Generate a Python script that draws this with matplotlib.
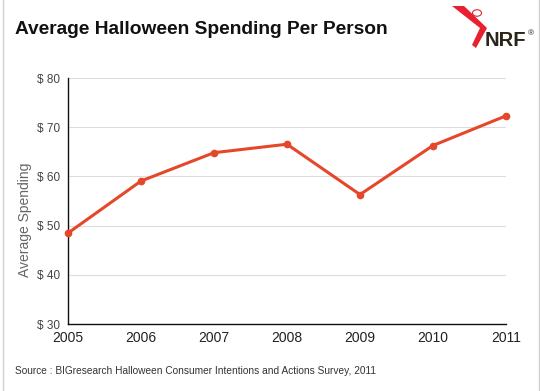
import matplotlib
matplotlib.use("Agg")
import matplotlib.pyplot as plt
from matplotlib.patches import Rectangle, Polygon, Circle

plt.rcParams['font.family'] = ['Liberation Sans', 'DejaVu Sans']

years = [2005, 2006, 2007, 2008, 2009, 2010, 2011]
spending = [48.48, 59.06, 64.82, 66.54, 56.31, 66.28, 72.31]
yticks = [30, 40, 50, 60, 70, 80]
ytick_labels = ["$ 30", "$ 40", "$ 50", "$ 60", "$ 70", "$ 80"]

W, H = 540, 391
fig = plt.figure(figsize=(W/100, H/100), dpi=100)
fig.patch.set_facecolor('white')

# outer border
fig.patches.append(Rectangle((3/W, -0.01), (W-4)/W, 1.02, transform=fig.transFigure,
                             fill=False, edgecolor='#d0d0d0', linewidth=1))

ax = fig.add_axes([68/W, 1-324/H, (506-68)/W, (324-78)/H])
ax.plot(years, spending, color='#E5472A', linewidth=2.2, marker='o',
        markersize=4.5, clip_on=False, zorder=3)
ax.set_xlim(2005, 2011)
ax.set_ylim(30, 80)
ax.set_yticks(yticks)
ax.set_yticklabels(ytick_labels, fontsize=8.5, color='#444444')
ax.set_xticks(years)
ax.set_xticklabels([str(y) for y in years], fontsize=10, color='#222222')
ax.tick_params(axis='y', length=0, pad=6)
ax.tick_params(axis='x', length=0, pad=5)
ax.grid(axis='y', color='#dddddd', linewidth=0.8)
ax.set_axisbelow(True)
for s in ['top', 'right']:
    ax.spines[s].set_visible(False)
ax.spines['left'].set_color('#111111')
ax.spines['bottom'].set_color('#111111')
ax.spines['left'].set_linewidth(1)
ax.spines['bottom'].set_linewidth(1)
ax.set_ylabel("Average Spending", fontsize=10, color='#666666')
ax.yaxis.set_label_coords((32-68)/438, (324-220)/246)

fig.text(15/W, 1-29/H, "Average Halloween Spending Per Person", fontsize=13.8,
         fontweight='bold', color='#111111', va='center', ha='left')
fig.text(15/W, 1-371/H, "Source : BIGresearch Halloween Consumer Intentions and Actions Survey, 2011",
         fontsize=7.3, color='#333333', va='center', ha='left')

# NRF logo
chev = Polygon([(452/W, 1-6/H), (464/W, 1-6/H), (487/W, 1-28/H), (476/W, 1-48/H),
                (472/W, 1-45/H), (480/W, 1-28/H)], closed=True,
               transform=fig.transFigure, facecolor='#E8202F', edgecolor='none')
fig.patches.append(chev)
fig.patches.append(Circle((477/W, 1-13/H), 4.5/W, transform=fig.transFigure,
                          fill=False, edgecolor='#E8202F', linewidth=0.8))
fig.text(485/W, 1-41/H, "NRF", fontsize=14.5, fontweight='bold', color='#2b2418',
         va='center', ha='left')
fig.text(531/W, 1-34/H, "®", fontsize=6, color='#2b2418', va='center', ha='center')

fig.savefig("out.png", dpi=100)
